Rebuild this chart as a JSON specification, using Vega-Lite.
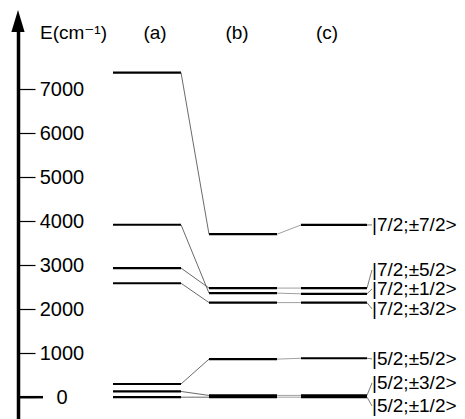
{
  "$schema": "https://vega.github.io/schema/vega-lite/v6.json",
  "width": 447,
  "height": 389,
  "autosize": {"type": "none"},
  "padding": {"top": 30, "left": 18, "right": 0, "bottom": 0},
  "background": "white",
  "config": {"view": {"stroke": null}, "font": "Liberation Sans"},
  "datasets": {
    "columns": [
      {"col": "a", "start": 22.6, "end": 36.2},
      {"col": "b", "start": 41.8, "end": 55.4},
      {"col": "c", "start": 60.2, "end": 73.4},
      {"col": "labels", "start": 74.4, "end": 93}
    ],
    "levels": [
      {"col": "a", "E": 7380}, {"col": "a", "E": 3920}, {"col": "a", "E": 2935}, {"col": "a", "E": 2590},
      {"col": "a", "E": 300}, {"col": "a", "E": 130}, {"col": "a", "E": 0},
      {"col": "b", "E": 3705}, {"col": "b", "E": 2480}, {"col": "b", "E": 2365}, {"col": "b", "E": 2150},
      {"col": "b", "E": 865}, {"col": "b", "E": 40}, {"col": "b", "E": 0},
      {"col": "c", "E": 3915}, {"col": "c", "E": 2480}, {"col": "c", "E": 2350}, {"col": "c", "E": 2150},
      {"col": "c", "E": 885}, {"col": "c", "E": 40}, {"col": "c", "E": 0}
    ],
    "links": [
      {"from": "a", "to": "b", "E1": 7380, "E2": 3705},
      {"from": "a", "to": "b", "E1": 3920, "E2": 2365},
      {"from": "a", "to": "b", "E1": 2935, "E2": 2480},
      {"from": "a", "to": "b", "E1": 2590, "E2": 2150},
      {"from": "a", "to": "b", "E1": 300, "E2": 865},
      {"from": "a", "to": "b", "E1": 130, "E2": 40},
      {"from": "a", "to": "b", "E1": 0, "E2": 0},
      {"from": "b", "to": "c", "E1": 3705, "E2": 3915},
      {"from": "b", "to": "c", "E1": 2480, "E2": 2480},
      {"from": "b", "to": "c", "E1": 2365, "E2": 2350},
      {"from": "b", "to": "c", "E1": 2150, "E2": 2150},
      {"from": "b", "to": "c", "E1": 865, "E2": 885},
      {"from": "b", "to": "c", "E1": 40, "E2": 40},
      {"from": "b", "to": "c", "E1": 0, "E2": 0},
      {"from": "c", "to": "labels", "E1": 3915, "E2": 3916},
      {"from": "c", "to": "labels", "E1": 2480, "E2": 2893},
      {"from": "c", "to": "labels", "E1": 2350, "E2": 2461},
      {"from": "c", "to": "labels", "E1": 2150, "E2": 2007},
      {"from": "c", "to": "labels", "E1": 885, "E2": 870},
      {"from": "c", "to": "labels", "E1": 40, "E2": 325},
      {"from": "c", "to": "labels", "E1": 0, "E2": -198}
    ],
    "states": [
      {"state": "|7/2;±7/2>", "col": "labels", "E": 3916},
      {"state": "|7/2;±5/2>", "col": "labels", "E": 2893},
      {"state": "|7/2;±1/2>", "col": "labels", "E": 2461},
      {"state": "|7/2;±3/2>", "col": "labels", "E": 2007},
      {"state": "|5/2;±5/2>", "col": "labels", "E": 870},
      {"state": "|5/2;±3/2>", "col": "labels", "E": 325},
      {"state": "|5/2;±1/2>", "col": "labels", "E": -198}
    ],
    "titles": [
      {"t": "(a)", "x": 31, "E": 8279},
      {"t": "(b)", "x": 47.4, "E": 8279},
      {"t": "(c)", "x": 65.4, "E": 8279}
    ],
    "ytitle": [{"t": "E(cm⁻¹)", "x": 8, "E": 8279}],
    "arrow": [{"x": 3.6, "E": 8552}],
    "zerotick": [{"x1": 3.6, "x2": 8.6, "E": 0}]
  },
  "layer": [
    {
      "data": {"name": "levels"},
      "transform": [
        {"lookup": "col", "from": {"data": {"name": "columns"}, "key": "col", "fields": ["start", "end"]}}
      ],
      "mark": {"type": "rule", "color": "black", "strokeWidth": 2.2},
      "encoding": {
        "x": {"field": "start", "type": "quantitative", "scale": {"domain": [3.6, 93], "nice": false, "zero": false}, "axis": null},
        "x2": {"field": "end"},
        "y": {
          "field": "E", "type": "quantitative",
          "scale": {"domain": [-496, 8347], "nice": false, "zero": false},
          "axis": {
            "orient": "left", "title": null, "format": "d",
            "values": [0, 1000, 2000, 3000, 4000, 5000, 6000, 7000],
            "domain": true, "domainWidth": 3.5, "domainColor": "black",
            "ticks": true, "tickSize": -17, "tickWidth": 1.2, "tickColor": "black",
            "labelAlign": "center", "labelBaseline": "middle", "labelPadding": -26.5,
            "labelFont": "Liberation Sans", "labelFontSize": 20, "labelColor": "black",
            "labelOverlap": false, "labelBound": false, "labelFlush": false, "grid": false
          }
        }
      }
    },
    {
      "data": {"name": "links"},
      "transform": [
        {"lookup": "from", "from": {"data": {"name": "columns"}, "key": "col", "fields": ["end"]}, "as": ["xa"]},
        {"lookup": "to", "from": {"data": {"name": "columns"}, "key": "col", "fields": ["start"]}, "as": ["xb"]}
      ],
      "mark": {"type": "rule", "strokeWidth": 0.8},
      "encoding": {
        "x": {"field": "xa", "type": "quantitative"},
        "x2": {"field": "xb"},
        "y": {"field": "E1", "type": "quantitative"},
        "y2": {"field": "E2"},
        "color": {"field": "to", "type": "nominal", "legend": null,
          "scale": {"domain": ["b", "c", "labels"], "range": ["#444444", "#888888", "#555555"]}}
      }
    },
    {
      "data": {"name": "zerotick"},
      "mark": {"type": "rule", "color": "black", "strokeWidth": 2.5},
      "encoding": {
        "x": {"field": "x1", "type": "quantitative"},
        "x2": {"field": "x2"},
        "y": {"field": "E", "type": "quantitative"}
      }
    },
    {
      "data": {"name": "arrow"},
      "mark": {"type": "point", "shape": "M0,-1L0.6,1L-0.6,1Z", "size": 484, "filled": true, "color": "black", "opacity": 1, "strokeWidth": 0},
      "encoding": {
        "x": {"field": "x", "type": "quantitative"},
        "y": {"field": "E", "type": "quantitative"}
      }
    },
    {
      "data": {"name": "states"},
      "transform": [
        {"lookup": "col", "from": {"data": {"name": "columns"}, "key": "col", "fields": ["start"]}}
      ],
      "mark": {"type": "text", "align": "left", "baseline": "middle", "dx": 0, "fontSize": 19, "font": "Liberation Sans", "color": "black"},
      "encoding": {
        "x": {"field": "start", "type": "quantitative"},
        "y": {"field": "E", "type": "quantitative"},
        "text": {"field": "state"}
      }
    },
    {
      "data": {"name": "titles"},
      "mark": {"type": "text", "align": "center", "baseline": "middle", "fontSize": 19, "font": "Liberation Sans", "color": "black"},
      "encoding": {
        "x": {"field": "x", "type": "quantitative"},
        "y": {"field": "E", "type": "quantitative"},
        "text": {"field": "t"}
      }
    },
    {
      "data": {"name": "ytitle"},
      "mark": {"type": "text", "align": "left", "baseline": "middle", "fontSize": 19, "font": "Liberation Sans, DejaVu Sans", "color": "black"},
      "encoding": {
        "x": {"field": "x", "type": "quantitative"},
        "y": {"field": "E", "type": "quantitative"},
        "text": {"field": "t"}
      }
    }
  ]
}
